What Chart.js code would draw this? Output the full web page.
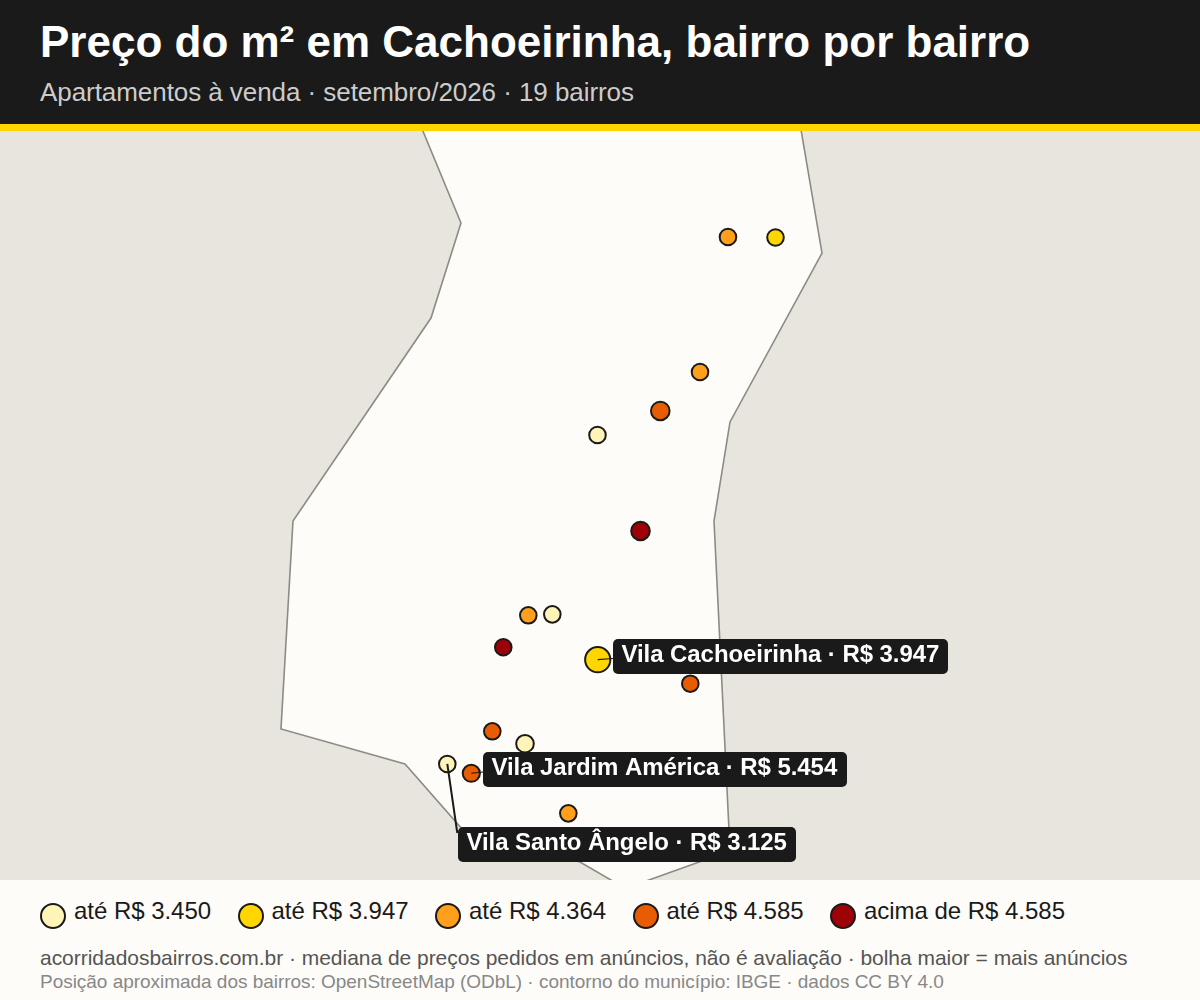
<!DOCTYPE html>
<html lang="pt-BR">
<head>
<meta charset="utf-8">
<title>Preço do m² em Cachoeirinha</title>
<script src="https://cdn.jsdelivr.net/npm/chart.js@4/dist/chart.umd.min.js"></script>
<style>
    html, body { margin: 0; padding: 0; background: #fdfcf8; }
    body { width: 1200px; height: 1000px; position: relative; overflow: hidden; font-family: "Liberation Sans", sans-serif; }
    #header { position: absolute; left: 0; top: 0; width: 1200px; height: 124px; background: #1a1a1a; border-bottom: 7px solid #ffd600; }
    #title { position: absolute; left: 40px; top: 17px; font-size: 44px; line-height: 50px; font-weight: bold; color: #fff; white-space: nowrap; }
    #subtitle { position: absolute; left: 40px; top: 78px; font-size: 26px; line-height: 28px; letter-spacing: -0.06px; color: #cccccc; white-space: nowrap; }
    #map { position: absolute; left: 0; top: 131px; width: 1200px; height: 749px; }
    #legend { position: absolute; left: 40px; top: 897px; height: 28px; white-space: nowrap; }
    .item { position: absolute; top: 0; font-size: 24px; line-height: 28px; letter-spacing: -0.03px; color: #1a1a1a; padding-left: 34px; }
    .dot { position: absolute; left: 0; top: 6px; width: 22px; height: 22px; border: 2px solid #1a1a1a; border-radius: 50%; }
    #source { position: absolute; left: 40px; top: 946px; font-size: 21px; line-height: 24px; letter-spacing: -0.03px; color: #555555; white-space: nowrap; }
    #credits { position: absolute; left: 40px; top: 971px; font-size: 19px; line-height: 22px; letter-spacing: -0.03px; color: #888888; white-space: nowrap; }
</style>
</head>
<body>
<div id="header">
    <div id="title">Preço do m² em Cachoeirinha, bairro por bairro</div>
    <div id="subtitle">Apartamentos à venda · setembro/2026 · 19 bairros</div>
</div>
<div id="map"><canvas id="mapChart" width="1200" height="749"></canvas></div>
<div id="legend"></div>
<div id="source">acorridadosbairros.com.br · mediana de preços pedidos em anúncios, não é avaliação · bolha maior = mais anúncios</div>
<div id="credits">Posição aproximada dos bairros: OpenStreetMap (ODbL) · contorno do município: IBGE · dados CC BY 4.0</div>

<script>
// bairros (lon, lat)
const bubbleLon = [-51.07867, -51.07075, -51.08333, -51.08995, -51.10042, -51.09325, -51.11195, -51.10795,
    -51.11612, -51.10038, -51.08495, -51.11795, -51.11250, -51.12545, -51.12145, -51.10528];
const bubbleLat = [-29.91415, -29.91422, -29.93218, -29.93738, -29.94059, -29.95340, -29.96466, -29.96453,
    -29.96893, -29.97059, -29.97379, -29.98015, -29.98180, -29.98451, -29.98575, -29.99110];
const bubbleSize = [8.3, 8.3, 8.3, 9.3, 8.3, 9.3, 8.3, 8.3, 8.3, 12.6, 8.3, 8.3, 8.8, 8.3, 8.6, 8.3];
const bubbleTier = [2, 1, 2, 3, 0, 4, 2, 0, 4, 1, 3, 3, 0, 0, 3, 2];

// faixas de preco
const tierColors = ["#fff4b8", "#ffd600", "#ff9f1c", "#e85d04", "#9d0208"];
const tierLabels = ["até R$ 3.450", "até R$ 3.947", "até R$ 4.364", "até R$ 4.585", "acima de R$ 4.585"];

// contorno do municipio
const outlineLon = [-51.13083, -51.12317, -51.12817, -51.15117, -51.15317, -51.13250, -51.12283, -51.10333,
    -51.09577, -51.07833, -51.08100, -51.07833, -51.06300, -51.06700, -51.13083];
const outlineLat = [-29.89746, -29.91228, -29.92497, -29.95207, -29.97984, -29.98451, -29.99332, -29.99760,
    -30.00112, -29.99613, -29.95207, -29.93885, -29.91629, -29.89746, -29.89746];

// bairros em destaque
const calloutNames = ["Vila Cachoeirinha", "Vila Jardim América", "Vila Santo Ângelo"];
const calloutPrices = ["3.947", "5.454", "3.125"];
const calloutBubble = [9, 14, 13];

const legendLeft = [0, 197.5, 395, 592.5, 790];
const legendBox = document.getElementById("legend");
tierLabels.forEach(function (label, i) {
    let item = document.createElement("div");
    item.className = "item";
    item.style.left = legendLeft[i] + "px";
    item.innerHTML = '<span class="dot" style="background:' + tierColors[i] + '"></span>' + label;
    legendBox.appendChild(item);
});

// caixa de cada destaque, relativa ao canvas
const calloutBoxes = [
    {left: 613, top: 508, width: 335, lineX: 613, lineY: 527.5},
    {left: 483, top: 621, width: 364, lineX: 483, lineY: 641},
    {left: 458, top: 696, width: 338, lineX: 457.3, lineY: 702}
];

const calloutPlugin = {
    id: "callouts",
    afterDatasetsDraw(chart) {
        const ctx = chart.ctx;
        const xs = chart.scales.x;
        const ys = chart.scales.y;
        ctx.save();
        ctx.font = "bold 24px 'Liberation Sans'";
        ctx.letterSpacing = "-0.07px";
        calloutNames.forEach(function (name, i) {
            const box = calloutBoxes[i];
            const text = name + " · R$ " + calloutPrices[i];
            const b = calloutBubble[i];
            ctx.strokeStyle = "#1a1a1a";
            ctx.lineWidth = i === 2 ? 2 : 1.2;
            ctx.beginPath();
            ctx.moveTo(xs.getPixelForValue(bubbleLon[b]), ys.getPixelForValue(bubbleLat[b]));
            ctx.lineTo(box.lineX, box.lineY);
            ctx.stroke();
            ctx.fillStyle = "#1a1a1a";
            ctx.beginPath();
            ctx.roundRect(box.left, box.top, box.width, 35, 5);
            ctx.fill();
            ctx.fillStyle = "#ffffff";
            ctx.textBaseline = "middle";
            ctx.fillText(text, box.left + 8.5, box.top + 16);
        });
        ctx.restore();
    }
};

const landPlugin = {
    id: "land",
    beforeDraw(chart) {
        const ctx = chart.ctx;
        ctx.save();
        ctx.fillStyle = "#e8e5de";
        ctx.fillRect(0, 0, chart.width, chart.height);
        ctx.restore();
    }
};

new Chart(document.getElementById("mapChart"), {
    type: "bubble",
    data: {
        datasets: [{
            type: "bubble",
            order: 1,
            data: bubbleLon.map((lon, i) => ({x: lon, y: bubbleLat[i], r: bubbleSize[i]})),
            backgroundColor: bubbleTier.map(t => tierColors[t]),
            borderColor: "#1a1a1a",
            borderWidth: 2
        }, {
            type: "scatter",
            order: 2,
            showLine: true,
            data: outlineLon.map((lon, i) => ({x: lon, y: outlineLat[i]})),
            borderColor: "#8c8c84",
            borderWidth: 1.6,
            backgroundColor: "#fdfcf8",
            fill: "shape",
            tension: 0,
            pointRadius: 0
        }]
    },
    options: {
        responsive: false,
        animation: false,
        events: [],
        layout: {padding: 0, autoPadding: false},
        plugins: {legend: {display: false}, tooltip: {enabled: false}},
        scales: {
            x: {type: "linear", display: false, min: -51.2, max: -51.0},
            y: {type: "linear", display: false, min: -30.0, max: -29.9}
        }
    },
    plugins: [landPlugin, calloutPlugin]
});
</script>
</body>
</html>
